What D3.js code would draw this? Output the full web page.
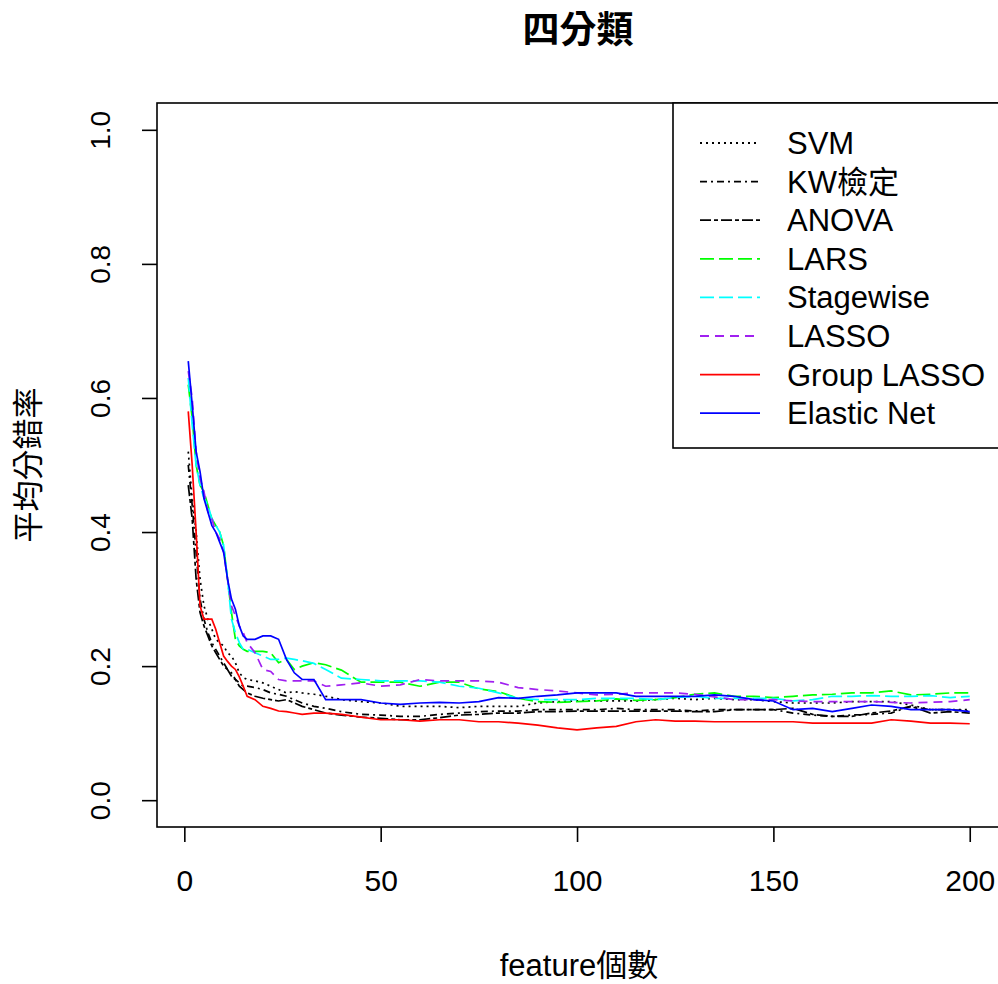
<!DOCTYPE html>
<html>
<head>
<meta charset="utf-8">
<script src="https://cdn.jsdelivr.net/npm/d3@7"></script>
<style>
  body { margin: 0; background: #fff; }
  text { font-family: "Liberation Sans", Arial, "Noto Sans CJK TC", sans-serif; fill: #000; }
</style>
</head>
<body>
<svg id="chart" width="998" height="984"></svg>
<script>
const featureCounts = [1,2,3,4,5,6,7,8,9,10,11,12,13,14,15,16,18,20,22,24,26,28,30,33,36,40,45,50,55,60,65,70,75,80,85,90,95,100,105,110,115,120,125,130,135,140,145,150,155,160,165,170,175,180,185,190,195,200];

const svmErr = [.52,.45,.40,.33,.29,.27,.255,.24,.235,.23,.22,.215,.205,.19,.183,.18,.178,.175,.17,.165,.16,.162,.16,.158,.155,.15,.147,.145,.14,.14,.14,.138,.14,.14,.14,.145,.147,.148,.148,.148,.148,.15,.152,.15,.152,.15,.15,.147,.145,.145,.145,.147,.147,.147,.142,.135,.135,.135];
const kwErr = [.50,.44,.37,.30,.27,.25,.235,.225,.215,.205,.195,.19,.18,.175,.17,.17,.168,.165,.16,.158,.155,.15,.145,.14,.137,.132,.128,.127,.125,.125,.128,.13,.132,.133,.133,.135,.135,.135,.135,.137,.135,.135,.135,.133,.135,.135,.135,.135,.13,.127,.125,.127,.128,.13,.14,.135,.135,.133];
const anovaErr = [.47,.42,.33,.28,.26,.245,.23,.22,.21,.20,.195,.185,.18,.17,.165,.16,.155,.152,.15,.148,.15,.145,.14,.135,.13,.127,.124,.122,.12,.12,.123,.127,.128,.13,.13,.132,.132,.133,.133,.133,.133,.133,.133,.132,.132,.135,.135,.135,.137,.128,.125,.125,.13,.133,.14,.13,.132,.13];
const larsErr = [.62,.57,.50,.47,.46,.44,.42,.41,.40,.38,.33,.28,.24,.23,.225,.222,.222,.222,.22,.205,.21,.195,.20,.205,.202,.194,.176,.176,.176,.17,.176,.176,.166,.162,.152,.147,.146,.147,.148,.151,.149,.15,.153,.158,.16,.155,.155,.153,.155,.157,.158,.16,.16,.163,.157,.158,.16,.16];
const stagewiseErr = [.63,.56,.50,.47,.45,.44,.42,.41,.40,.38,.33,.27,.25,.235,.225,.225,.22,.215,.21,.21,.212,.21,.208,.204,.195,.182,.18,.178,.178,.178,.176,.17,.167,.16,.152,.15,.15,.15,.152,.152,.152,.15,.153,.155,.152,.152,.152,.152,.148,.15,.155,.155,.156,.155,.155,.156,.153,.155];
const lassoErr = [.64,.60,.52,.48,.46,.43,.42,.40,.39,.37,.33,.29,.275,.26,.25,.235,.22,.195,.192,.18,.178,.178,.178,.178,.17,.172,.175,.17,.172,.18,.178,.178,.178,.176,.168,.165,.163,.16,.157,.158,.16,.16,.16,.158,.154,.15,.15,.15,.148,.147,.147,.147,.147,.146,.145,.146,.147,.15];
const groupLassoErr = [.58,.50,.40,.29,.27,.27,.27,.255,.235,.215,.207,.20,.195,.184,.17,.155,.15,.14,.137,.133,.132,.13,.128,.13,.13,.128,.124,.12,.12,.118,.12,.12,.117,.117,.115,.112,.108,.105,.108,.11,.117,.12,.118,.118,.117,.117,.117,.117,.117,.115,.115,.115,.115,.12,.118,.115,.115,.114];
const elasticNetErr = [.655,.59,.52,.49,.45,.43,.41,.40,.385,.37,.33,.30,.285,.26,.245,.24,.24,.245,.245,.24,.21,.19,.18,.18,.15,.15,.15,.145,.143,.145,.146,.145,.147,.153,.152,.155,.157,.16,.16,.16,.155,.155,.155,.155,.157,.155,.15,.148,.135,.137,.132,.137,.142,.14,.135,.135,.135,.132];

const seriesNames = ["SVM", "KW檢定", "ANOVA", "LARS", "Stagewise", "LASSO", "Group LASSO", "Elastic Net"];
const seriesValues = [svmErr, kwErr, anovaErr, larsErr, stagewiseErr, lassoErr, groupLassoErr, elasticNetErr];
const seriesColors = ["#000000", "#000000", "#000000", "#00FF00", "#00FFFF", "#A020F0", "#FF0000", "#0000FF"];
const seriesDash = ["2,4", "7,4,2,4", "11,3,4,3", "14,5", "14,5", "9,6", null, null];

const xTicks = [0, 50, 100, 150, 200];
const yTicks = [0, 0.2, 0.4, 0.6, 0.8, 1.0];

const plot = { left: 157, top: 103, right: 1001, bottom: 827 };

const svg = d3.select("#chart");

// R style 4% padding on both axes
const x = d3.scaleLinear().domain([1 - 199 * 0.04, 200 + 199 * 0.04]).range([plot.left, plot.right]);
const y = d3.scaleLinear().domain([-0.04, 1.04]).range([plot.bottom, plot.top]);

svg.append("clipPath").attr("id", "clip")
  .append("rect")
  .attr("x", plot.left).attr("y", plot.top)
  .attr("width", plot.right - plot.left).attr("height", plot.bottom - plot.top);

const line = d3.line()
  .x((d, i) => x(featureCounts[i]))
  .y(d => y(d));

const lines = svg.append("g").attr("clip-path", "url(#clip)");
seriesValues.forEach((vals, k) => {
  lines.append("path")
    .datum(vals)
    .attr("d", line)
    .attr("fill", "none")
    .attr("stroke", seriesColors[k])
    .attr("stroke-width", 1.7)
    .attr("stroke-dasharray", seriesDash[k]);
});

// box
svg.append("rect")
  .attr("x", plot.left).attr("y", plot.top)
  .attr("width", plot.right - plot.left).attr("height", plot.bottom - plot.top)
  .attr("fill", "none").attr("stroke", "#000").attr("stroke-width", 1.6);

// x axis
const xAxis = svg.append("g")
  .attr("transform", "translate(0," + plot.bottom + ")")
  .call(d3.axisBottom(x).tickValues(xTicks).tickSize(15).tickPadding(28).tickFormat(d3.format("d")));
xAxis.select(".domain").remove();
xAxis.selectAll("line").attr("stroke-width", 1.6);
xAxis.selectAll("text").attr("font-size", 30).attr("font-family", "Liberation Sans, Arial, sans-serif");

// y axis, labels rotated like R's default las=0
const yAxis = svg.append("g")
  .attr("transform", "translate(" + plot.left + ",0)")
  .call(d3.axisLeft(y).tickValues(yTicks).tickSize(15).tickFormat(d3.format(".1f")));
yAxis.select(".domain").remove();
yAxis.selectAll("line").attr("stroke-width", 1.6);
yAxis.selectAll("text")
  .attr("font-size", 28)
  .attr("font-family", "Liberation Sans, Arial, sans-serif")
  .attr("text-anchor", "middle")
  .attr("x", 0).attr("dy", 0)
  .attr("transform", "translate(-57,0) rotate(-90)")
  .attr("y", 10);

// titles
svg.append("text")
  .attr("x", 578).attr("y", 43)
  .attr("text-anchor", "middle")
  .attr("font-size", 37).attr("font-weight", "bold")
  .attr("font-family", "Noto Sans CJK TC, sans-serif")
  .text("四分類");

svg.append("text")
  .attr("x", 579).attr("y", 976)
  .attr("text-anchor", "middle")
  .attr("font-size", 31)
  .text("feature個數");

svg.append("text")
  .attr("transform", "translate(39,465) rotate(-90)")
  .attr("text-anchor", "middle")
  .attr("font-size", 31)
  .text("平均分錯率");

// legend
const legend = svg.append("g");
legend.append("rect")
  .attr("x", 673).attr("y", plot.top)
  .attr("width", plot.right - 673).attr("height", 448 - plot.top)
  .attr("fill", "#fff").attr("stroke", "#000").attr("stroke-width", 1.6);

seriesNames.forEach((name, k) => {
  const cy = 143 + k * 38.6;
  legend.append("line")
    .attr("x1", 700).attr("x2", 760)
    .attr("y1", cy).attr("y2", cy)
    .attr("stroke", seriesColors[k])
    .attr("stroke-width", 1.8)
    .attr("stroke-dasharray", seriesDash[k]);
  legend.append("text")
    .attr("x", 787).attr("y", cy + 11)
    .attr("font-size", 31)
    .text(name);
});
</script>
</body>
</html>
